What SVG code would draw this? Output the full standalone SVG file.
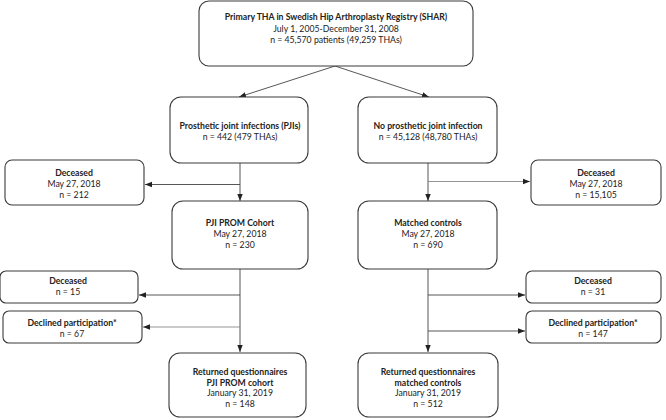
<svg xmlns="http://www.w3.org/2000/svg" width="666" height="420" viewBox="0 0 666 420">
<style>
.box{fill:#fff;stroke:#3a3a3a;stroke-width:1.1}
text{font-family:Lato,"Open Sans","Liberation Sans",sans-serif;font-size:8.7px;fill:#222;text-anchor:middle}
.b{font-weight:bold}
.ln{fill:none;stroke:#444;stroke-width:0.9}
.lt{fill:none;stroke:#888;stroke-width:0.9}
</style>
<defs>
<marker id="ah" markerWidth="8" markerHeight="8" refX="7" refY="4" orient="auto" markerUnits="userSpaceOnUse">
<path d="M0,1.3 L7,4 L0,6.7 Z" fill="#222"/>
</marker>
</defs>
<rect width="666" height="420" fill="#fff"/>
<g id="connectors">
<path class="ln" d="M335,66 L239,97" marker-end="url(#ah)"/>
<path class="ln" d="M335,66 L429,97" marker-end="url(#ah)"/>
<path class="ln" d="M240,163 L240,201" marker-end="url(#ah)"/>
<path class="ln" d="M240,184.5 L145,184.5" marker-end="url(#ah)"/>
<path class="ln" d="M428,163 L428,201" marker-end="url(#ah)"/>
<path class="lt" d="M428,181.5 L530,181.5" marker-end="url(#ah)"/>
<path class="ln" d="M240,268 L240,352" marker-end="url(#ah)"/>
<path class="ln" d="M240,295 L139,295" marker-end="url(#ah)"/>
<path class="lt" d="M240,327 L143,327" marker-end="url(#ah)"/>
<path class="ln" d="M428,268 L428,352" marker-end="url(#ah)"/>
<path class="ln" d="M428,295 L525,295" marker-end="url(#ah)"/>
<path class="ln" d="M428,331 L525,331" marker-end="url(#ah)"/>
</g>
<g id="shar">
<rect class="box" x="199" y="1" width="274" height="65" rx="10"/>
<text class="b" x="336" y="20">Primary THA in Swedish Hip Arthroplasty Registry (SHAR)</text>
<text x="336" y="31.5">July 1, 2005-December 31, 2008</text>
<text x="336" y="43">n = 45,570 patients (49,259 THAs)</text>
</g>
<g id="pji">
<rect class="box" x="170" y="97" width="138" height="66" rx="11"/>
<text class="b" x="240" y="129">Prosthetic joint infections (PJIs)</text>
<text x="240" y="140">n = 442 (479 THAs)</text>
</g>
<g id="nopji">
<rect class="box" x="358" y="97" width="139" height="66" rx="11"/>
<text class="b" x="428" y="129">No prosthetic joint infection</text>
<text x="428" y="140">n = 45,128 (48,780 THAs)</text>
</g>
<g id="dec1">
<rect class="box" x="5" y="160" width="139" height="45" rx="7"/>
<text class="b" x="74" y="176">Deceased</text>
<text x="74" y="187">May 27, 2018</text>
<text x="74" y="198">n = 212</text>
</g>
<g id="dec2">
<rect class="box" x="531" y="160" width="130" height="45" rx="7"/>
<text class="b" x="596" y="176">Deceased</text>
<text x="596" y="187">May 27, 2018</text>
<text x="596" y="198">n = 15,105</text>
</g>
<g id="prom">
<rect class="box" x="172" y="201" width="136" height="68" rx="11"/>
<text class="b" x="240" y="226">PJI PROM Cohort</text>
<text x="240" y="237">May 27, 2018</text>
<text x="240" y="248">n = 230</text>
</g>
<g id="matched">
<rect class="box" x="358" y="201" width="139" height="68" rx="11"/>
<text class="b" x="428" y="226">Matched controls</text>
<text x="428" y="237">May 27, 2018</text>
<text x="428" y="248">n = 690</text>
</g>
<g id="dec3">
<rect class="box" x="0" y="271" width="138" height="32" rx="6"/>
<text class="b" x="68" y="284">Deceased</text>
<text x="68" y="295">n = 15</text>
</g>
<g id="decl1">
<rect class="box" x="3" y="311" width="139" height="32" rx="6"/>
<text class="b" x="72" y="326">Declined participation*</text>
<text x="72" y="337">n = 67</text>
</g>
<g id="dec4">
<rect class="box" x="526" y="271" width="135" height="32" rx="6"/>
<text class="b" x="593" y="284">Deceased</text>
<text x="593" y="295">n = 31</text>
</g>
<g id="decl2">
<rect class="box" x="526" y="311" width="135" height="32" rx="6"/>
<text class="b" x="593" y="326">Declined participation*</text>
<text x="593" y="337">n = 147</text>
</g>
<g id="ret1">
<rect class="box" x="169" y="353" width="137" height="64" rx="11"/>
<text class="b" x="240" y="375">Returned questionnaires</text>
<text class="b" x="240" y="385.5">PJI PROM cohort</text>
<text x="240" y="396">January 31, 2019</text>
<text x="240" y="406.5">n = 148</text>
</g>
<g id="ret2">
<rect class="box" x="358" y="353" width="140" height="64" rx="11"/>
<text class="b" x="428" y="375">Returned questionnaires</text>
<text class="b" x="428" y="385.5">matched controls</text>
<text x="428" y="396">January 31, 2019</text>
<text x="428" y="406.5">n = 512</text>
</g>
</svg>
